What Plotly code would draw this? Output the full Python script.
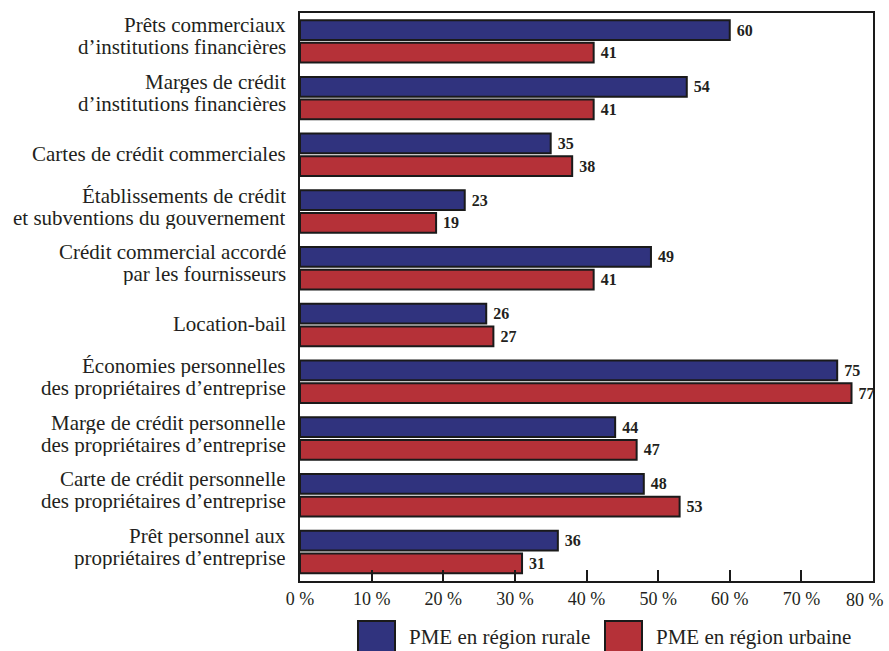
import plotly.graph_objects as go

# Sources de financement utilisées par les PME (%)
categories = [
    "Prêts commerciaux|d’institutions financières",
    "Marges de crédit|d’institutions financières",
    "Cartes de crédit commerciales",
    "Établissements de crédit|et subventions du gouvernement",
    "Crédit commercial accordé|par les fournisseurs",
    "Location-bail",
    "Économies personnelles|des propriétaires d’entreprise",
    "Marge de crédit personnelle|des propriétaires d’entreprise",
    "Carte de crédit personnelle|des propriétaires d’entreprise",
    "Prêt personnel aux|propriétaires d’entreprise",
]
rural = [60, 54, 35, 23, 49, 26, 75, 44, 48, 36]
urbain = [41, 41, 38, 19, 41, 27, 77, 47, 53, 31]
series_names = ["PME en région rurale", "PME en région urbaine"]
tick_vals = [0, 10, 20, 30, 40, 50, 60, 70, 80]
tick_text = ["0 %", "10 %", "20 %", "30 %", "40 %", "50 %", "60 %", "70 %", "80 %"]

BLUE = "#30337e"
RED = "#b53138"
INK = "#231f20"
EDGE = "#1a1a1a"
FONT = "Liberation Serif, Times New Roman, DejaVu Serif, serif"

fig = go.Figure()
for name, vals, col in [(series_names[0], rural, BLUE), (series_names[1], urbain, RED)]:
    fig.add_trace(go.Bar(
        y=categories, x=vals, name=name, orientation="h",
        marker=dict(color=col, line=dict(color=EDGE, width=2)),
        text=vals, texttemplate=" <b>%{text}</b>", textposition="outside",
        textfont=dict(family=FONT, size=16, color=INK),
        cliponaxis=False, showlegend=False,
    ))

# La dernière graduation est écrite à part pour rester dans la page
axis_text = tick_text[:-1] + [""]

fig.update_layout(
    width=889, height=651,
    margin=dict(l=300, r=16, t=13, b=70, autoexpand=False),
    paper_bgcolor="white", plot_bgcolor="white",
    barmode="group", bargap=0.2, bargroupgap=0.13,
    font=dict(family=FONT, color=INK),
    uniformtext=dict(minsize=16, mode="show"),
    xaxis=dict(
        range=[0, 80], tickvals=tick_vals, ticktext=axis_text,
        ticks="inside", ticklen=11, tickwidth=2, tickcolor=EDGE,
        showline=True, linecolor=EDGE, linewidth=2, mirror=True,
        showgrid=False, zeroline=False, automargin=False,
        tickfont=dict(family=FONT, size=18, color=INK),
    ),
    yaxis=dict(
        autorange="reversed", showline=True, linecolor=EDGE, linewidth=2,
        mirror=True, showgrid=False, ticks="", showticklabels=False,
        automargin=False,
    ),
)

fig.add_annotation(text=tick_text[-1], xref="x", yref="paper",
                   x=tick_vals[-1], y=0, xanchor="right", yanchor="top",
                   xshift=13, yshift=-7, showarrow=False,
                   font=dict(family=FONT, size=18, color=INK))

# Libellés des catégories (une ou deux lignes, alignés à droite)
for cat in categories:
    lines = cat.split("|")
    shifts = [1] if len(lines) == 1 else [16, -6]
    for line, dy in zip(lines, shifts):
        fig.add_annotation(text=line, xref="paper", yref="y", x=0, y=cat,
                           xanchor="right", yanchor="middle", xshift=-12,
                           yshift=dy, height=22, showarrow=False,
                           font=dict(family=FONT, size=21, color=INK))

# Légende sous le graphique
legend_items = [(series_names[0], BLUE, 358), (series_names[1], RED, 605)]
for name, col, x0 in legend_items:
    fig.add_shape(type="rect", xref="paper", yref="paper",
                  x0=(x0 - 300) / 573, x1=(x0 + 37 - 300) / 573,
                  y0=(581 - 655) / 568, y1=(581 - 621) / 568,
                  fillcolor=col, line=dict(color=EDGE, width=2))
    fig.add_annotation(text=name, xref="paper", yref="paper",
                       x=(x0 + 49 - 300) / 573, y=(581 - 637) / 568,
                       xanchor="left", yanchor="middle", showarrow=False,
                       font=dict(family=FONT, size=21, color=INK))

fig.write_html("out.html")
